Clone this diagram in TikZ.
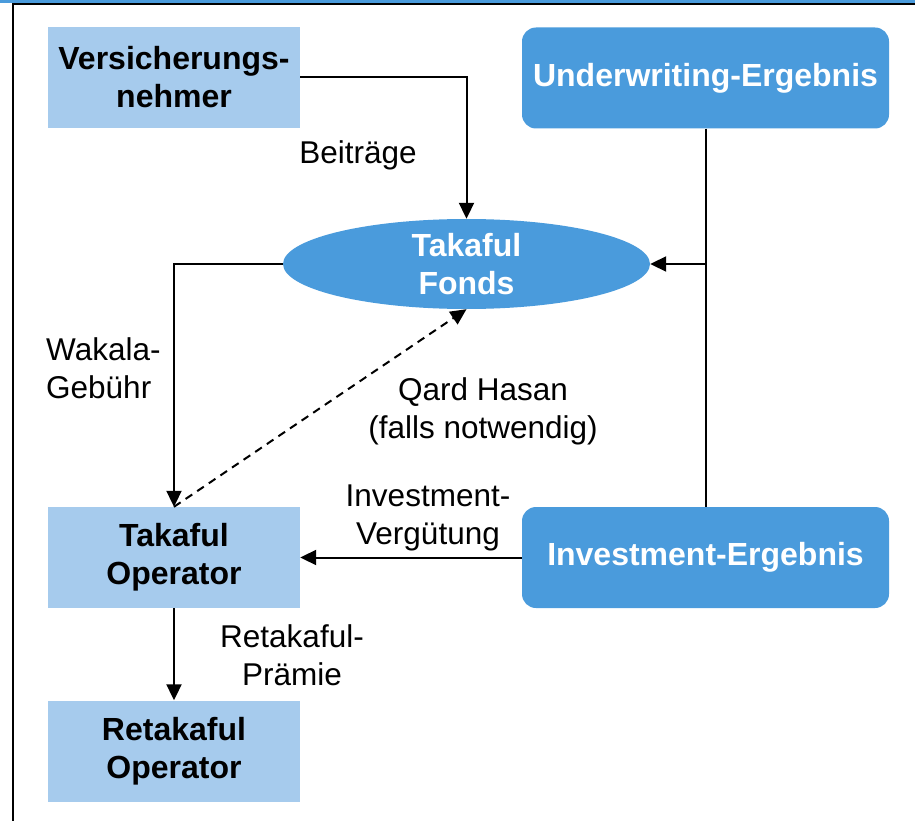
\documentclass[tikz,border=0pt]{standalone}
\usepackage{fontspec}
\setmainfont{Liberation Sans}
\usetikzlibrary{arrows.meta,calc,shapes,positioning}
\definecolor{hellblau}{HTML}{A6CBED}
\definecolor{mittelblau}{HTML}{4A9BDC}
\tikzset{
	kasten/.style={fill=hellblau, minimum width=252, minimum height=101, inner sep=0, align=center, font=\fontsize{32}{38}\selectfont\bfseries},
	ergebnis/.style={fill=mittelblau, rounded corners=14, minimum width=367, minimum height=101, inner sep=0, align=center, text=white, font=\fontsize{32}{38}\selectfont\bfseries},
	fluss/.style={line width=2pt, -{Triangle[length=16pt,width=15pt]}},
	beschriftung/.style={inner sep=0, font=\fontsize{31.5}{38}\selectfont}
}

\begin{document}
\begin{tikzpicture}[x=1pt,y=-1pt]
\useasboundingbox (0,0) rectangle (915,821);
% Rahmen
\fill[mittelblau] (0,0) rectangle (915,3);
\draw[line width=2pt] (12,4.5) -- (915,4.5);
\draw[line width=2pt] (12.5,4) -- (12.5,821);
% Knoten
\node[kasten] (vn) at (174,77.5) {Versicherungs-\\nehmer};
\node[ergebnis] (uw) at (705.5,78) {Underwriting-Ergebnis};
\node[ellipse, fill=mittelblau, minimum width=367, minimum height=90, inner sep=0, align=center, text=white, font=\fontsize{32}{38}\selectfont\bfseries] (fonds) at (466.5,264) {Takaful\\Fonds};
\node[kasten] (op) at (174,557.5) {Takaful\\Operator};
\node[ergebnis] (inv) at (705.5,557.5) {Investment-Ergebnis};
\node[kasten] (reop) at (174,751) {Retakaful\\Operator};
% Verbindungen
\draw[fluss] (vn.east) -| (fonds.north);
\draw[line width=2pt] (uw.south) -- (inv.north);
\draw[fluss] (uw.south |- fonds.east) -- (fonds.east);
\draw[fluss] (fonds.west) -| (op.north);
\draw[fluss, dash pattern=on 8pt off 6pt] (op.north) -- (fonds.south);
\draw[fluss] (inv.west) -- (op.east);
\draw[fluss] (op.south) -- (reop.north);
% Beschriftungen
\node[beschriftung] (beitraege) at (358,155) {Beiträge};
\node[beschriftung, align=left, anchor=west] (wakala) at (46,368) {Wakala-\\Gebühr};
\node[beschriftung, align=center] (qard) at (483,411) {Qard Hasan\\(falls notwendig)};
\node[beschriftung, align=center] (verguetung) at (428,518) {Investment-\\Vergütung};
\node[beschriftung, align=center] (praemie) at (292,655) {Retakaful-\\Prämie};
\end{tikzpicture}
\end{document}
